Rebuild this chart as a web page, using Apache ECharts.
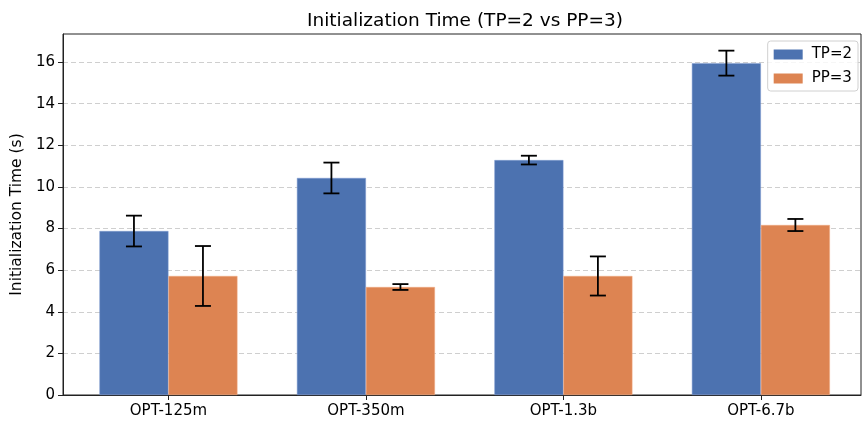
<!DOCTYPE html>
<html>
<head>
<meta charset="utf-8">
<script src="https://cdn.jsdelivr.net/npm/echarts@6/dist/echarts.min.js"></script>
<style>
  html, body { margin: 0; padding: 0; background: #fff; }
  #chart { width: 862px; height: 422px; }
</style>
</head>
<body>
<div id="chart"></div>
<script>
// data
const models = ['OPT-125m', 'OPT-350m', 'OPT-1.3b', 'OPT-6.7b']
const tpMean = [7.88, 10.43, 11.29, 15.95]
const tpErr = [0.74, 0.74, 0.21, 0.60]
const ppMean = [5.72, 5.19, 5.72, 8.17]
const ppErr = [1.44, 0.14, 0.94, 0.29]
const yTicks = [0, 2, 4, 6, 8, 10, 12, 14, 16]

const BAR_W = 69
const FONT = 'DejaVu Sans, sans-serif'

const chart = echarts.init(document.getElementById('chart'), null, { renderer: 'canvas' })

function errSeries(means, errs, dx) {
  return {
    type: 'custom',
    silent: true,
    z: 10,
    data: means.map((m, i) => [i, m - errs[i], m + errs[i]]),
    renderItem(params, api) {
      const lo = api.coord([api.value(0), api.value(1)])
      const hi = api.coord([api.value(0), api.value(2)])
      const x = lo[0] + dx
      const cap = 8
      const style = { stroke: '#000', lineWidth: 1.8 }
      return {
        type: 'group',
        children: [
          { type: 'line', shape: { x1: x, y1: lo[1], x2: x, y2: hi[1] }, style },
          { type: 'line', shape: { x1: x - cap, y1: lo[1], x2: x + cap, y2: lo[1] }, style },
          { type: 'line', shape: { x1: x - cap, y1: hi[1], x2: x + cap, y2: hi[1] }, style }
        ]
      }
    }
  }
}

chart.setOption({
  animation: false,
  textStyle: { fontFamily: FONT },
  title: {
    text: 'Initialization Time (TP=2 vs PP=3)',
    left: 460,
    textAlign: 'center',
    top: 7,
    textStyle: { fontFamily: FONT, fontSize: 18.5, fontWeight: 'normal', color: '#000' }
  },
  legend: {
    right: 4,
    top: 41,
    orient: 'vertical',
    icon: 'rect',
    itemWidth: 29,
    itemHeight: 10,
    itemGap: 9,
    padding: [6, 6, 5, 6],
    borderColor: '#d0d0d0',
    borderWidth: 1,
    borderRadius: 3,
    backgroundColor: 'rgba(255,255,255,0.8)',
    itemStyle: { borderWidth: 0 },
    textStyle: { fontFamily: FONT, fontSize: 15, color: '#000', padding: [0, 0, 0, 4] },
    data: ['TP=2', 'PP=3']
  },
  grid: {
    left: 63, right: 1, top: 34, bottom: 27,
    outerBoundsMode: 'none',
    containLabel: false,
    show: true, borderColor: '#222', borderWidth: 1
  },
  xAxis: {
    type: 'value',
    min: -0.534,
    max: 3.507,
    splitLine: { show: false },
    axisLine: { show: true, onZero: false, lineStyle: { color: '#222' } },
    axisTick: { show: true, length: 5, lineStyle: { color: '#222' }, customValues: [0, 1, 2, 3] },
    axisLabel: {
      customValues: [0, 1, 2, 3],
      formatter: v => models[Math.round(v)],
      color: '#000', fontSize: 15, fontFamily: FONT, margin: 9
    }
  },
  yAxis: {
    type: 'value',
    min: 0,
    max: 17.35,
    interval: 2,
    name: 'Initialization Time (s)',
    nameLocation: 'middle',
    nameGap: 36,
    nameTextStyle: { fontFamily: FONT, fontSize: 15.5, color: '#000' },
    axisLine: { show: true, onZero: false, lineStyle: { color: '#222' } },
    axisTick: { show: true, length: 5, lineStyle: { color: '#222' } },
    axisLabel: {
      showMaxLabel: false,
      formatter: v => (yTicks.includes(v) ? String(v) : ''),
      color: '#000', fontSize: 15, fontFamily: FONT, margin: 8
    },
    splitLine: {
      show: true, showMaxLine: false, showMinLine: false,
      lineStyle: { color: '#cfcfcf', type: [5, 3], width: 1 }
    }
  },
  series: [
    {
      name: 'TP=2',
      type: 'bar',
      barWidth: BAR_W,
      barGap: '0%',
      itemStyle: { color: '#4c72b0', borderColor: '#7f9bd0', borderWidth: 0.5 },
      data: tpMean.map((v, i) => [i, v])
    },
    {
      name: 'PP=3',
      type: 'bar',
      barWidth: BAR_W,
      barGap: '0%',
      itemStyle: { color: '#dd8452', borderColor: '#f0a880', borderWidth: 0.5 },
      data: ppMean.map((v, i) => [i, v])
    },
    errSeries(tpMean, tpErr, -BAR_W / 2),
    errSeries(ppMean, ppErr, BAR_W / 2)
  ]
})
</script>
</body>
</html>
